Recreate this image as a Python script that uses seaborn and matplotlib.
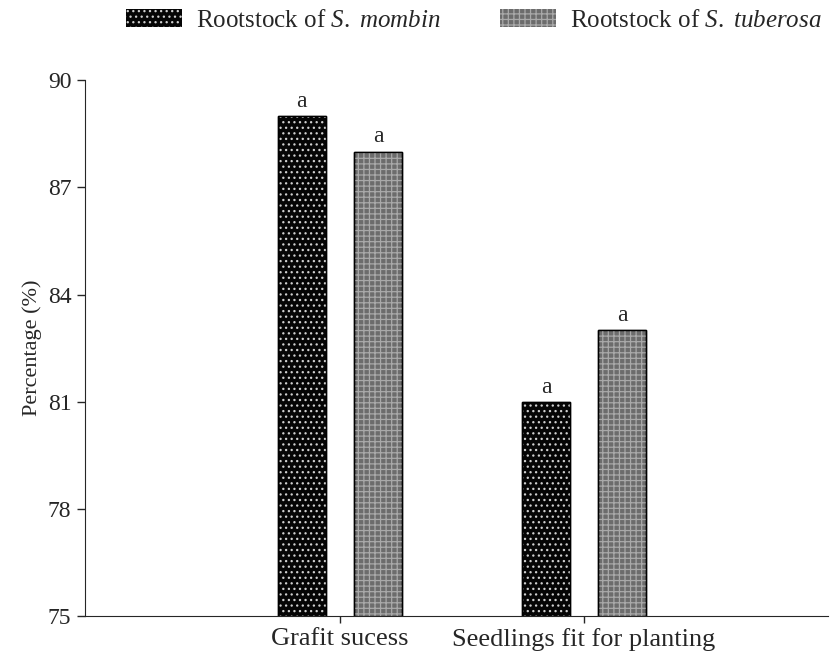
import matplotlib
matplotlib.use("Agg")
import matplotlib.pyplot as plt
from matplotlib.patches import Rectangle
import seaborn as sns
import pandas as pd

# data
kategori = ["Grafit sucess", "Seedlings fit for planting"]
batang_bawah = ["Rootstock of $\\it{S.\\ mombin}$", "Rootstock of $\\it{S.\\ tuberosa}$"]
nilai_mombin = [89, 81]
nilai_tuberosa = [88, 83]
huruf_mombin = ["a", "a"]
huruf_tuberosa = ["a", "a"]
yticks = [75, 78, 81, 84, 87, 90]

df = pd.DataFrame({
    "kategori": kategori * 2,
    "batang": [batang_bawah[0]] * 2 + [batang_bawah[1]] * 2,
    "nilai": nilai_mombin + nilai_tuberosa,
})

sns.set_style("ticks")
plt.rcParams["font.family"] = ["Liberation Serif", "DejaVu Serif"]
plt.rcParams["mathtext.fontset"] = "custom"
plt.rcParams["mathtext.rm"] = "Liberation Serif"
plt.rcParams["mathtext.it"] = "Liberation Serif:italic"
plt.rcParams["hatch.linewidth"] = 0.9

WARNA = {batang_bawah[0]: "#050505", batang_bawah[1]: "#6c6c6c"}
HATCH = {batang_bawah[0]: ("...", "#cfcfcf"), batang_bawah[1]: ("+++", "#a9a9a9")}

fig, ax = plt.subplots(figsize=(8.3, 6.52), dpi=100)
sns.barplot(data=df, x="kategori", y="nilai", hue="batang", order=kategori,
            hue_order=batang_bawah, palette=WARNA, width=0.623, gap=0.367,
            edgecolor="black", linewidth=1.0, bottom=0, ax=ax, legend=False)

# pola titik putih di atas tiap batang
for container, nama in zip(ax.containers, batang_bawah):
    h, c = HATCH[nama]
    for p in container:
        ax.add_patch(Rectangle((p.get_x(), p.get_y()), p.get_width(), p.get_height(),
                               fill=False, hatch=h, edgecolor=c, linewidth=0, zorder=p.get_zorder() + 0.1))
        ax.add_patch(Rectangle((p.get_x(), p.get_y()), p.get_width(), p.get_height(),
                               fill=False, edgecolor="black", linewidth=1.0, zorder=p.get_zorder() + 0.2))

for container, labels in zip(ax.containers, [huruf_mombin, huruf_tuberosa]):
    ax.bar_label(container, labels=labels, padding=3, fontsize=17)

ax.set_ylim(75, 90)
ax.set_xlim(-1.045, 2.0)
ax.set_yticks(yticks)
ax.tick_params(axis="both", labelsize=17, direction="out", length=6, width=1)
ax.tick_params(axis="x", labelsize=19, length=5)
ax.set_xlabel("")
ax.set_ylabel("Percentage (%)", fontsize=16)
ax.spines[["top", "right"]].set_visible(False)

# legenda di atas plot
handles = []
for nama in batang_bawah:
    h, c = HATCH[nama]
    handles.append(Rectangle((0, 0), 1, 1, facecolor=WARNA[nama], edgecolor=c, hatch=h, linewidth=0))
fig.legend(handles, batang_bawah, loc="upper center", bbox_to_anchor=(0.571, 1.02), ncol=2,
           frameon=False, fontsize=18, handlelength=2.24, handleheight=0.7,
           columnspacing=2.36, handletextpad=0.56)

plt.subplots_adjust(left=0.102, right=0.998, top=0.877, bottom=0.055)
plt.savefig("out.png", dpi=100)
plt.close()
